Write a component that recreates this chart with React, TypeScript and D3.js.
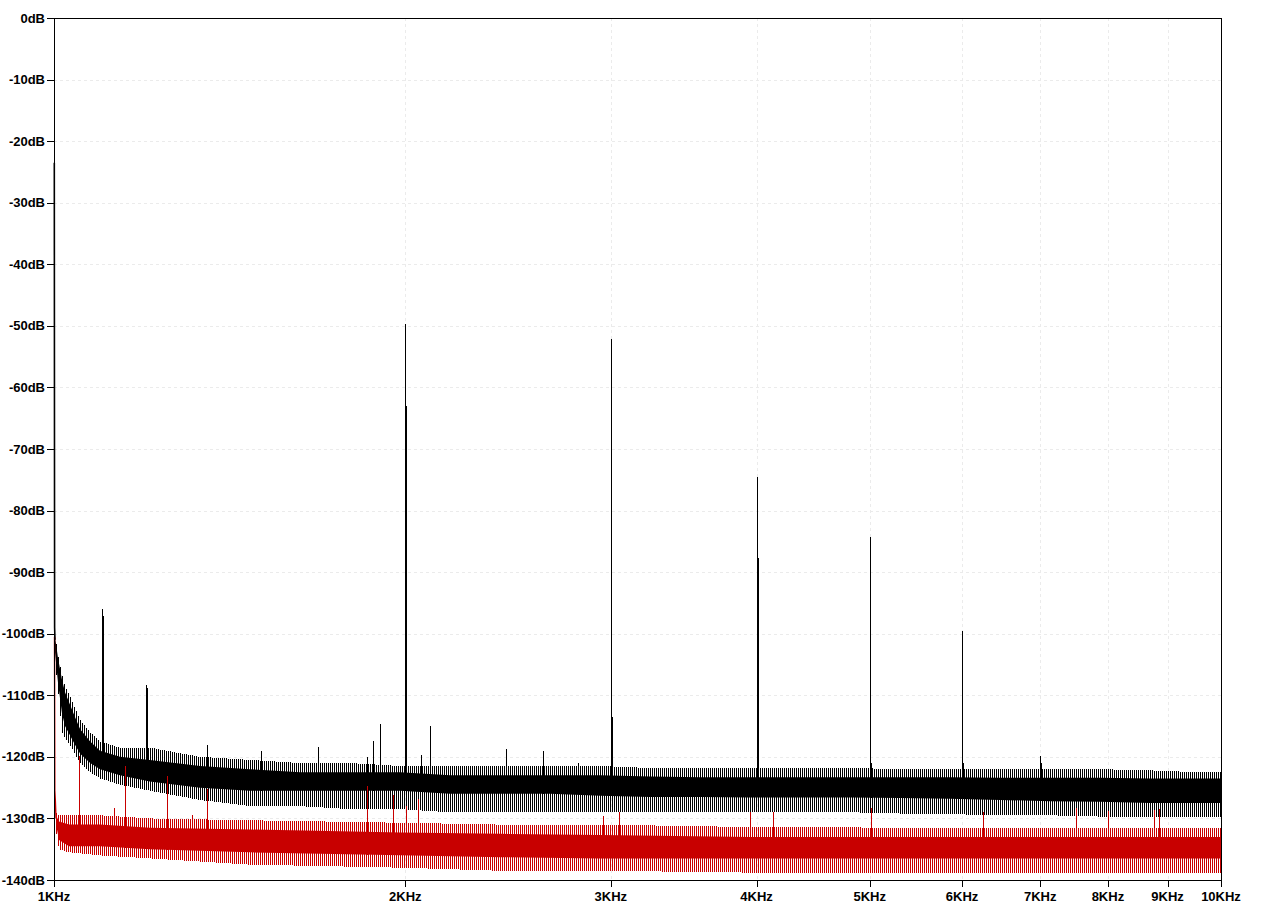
import React from 'react';
import * as d3 from 'd3';

const WIDTH = 1276;
const HEIGHT = 906;
const PLOT = { left: 54, top: 18, right: 1221, bottom: 880 };

// Axis ticks
const yTickValues = [0, -10, -20, -30, -40, -50, -60, -70, -80, -90, -100, -110, -120, -130, -140];
const yTickLabels = ['0dB', '-10dB', '-20dB', '-30dB', '-40dB', '-50dB', '-60dB', '-70dB', '-80dB', '-90dB', '-100dB', '-110dB', '-120dB', '-130dB', '-140dB'];
const xTickValues = [1000, 2000, 3000, 4000, 5000, 6000, 7000, 8000, 9000, 10000];
const xTickLabels = ['1KHz', '2KHz', '3KHz', '4KHz', '5KHz', '6KHz', '7KHz', '8KHz', '9KHz', '10KHz'];

// Black trace: lead-in at the 1 kHz edge
const blackLeadFreq = [1000.6, 1001.2, 1002];
const blackLeadDb = [-23.5, -99, -101];

// Black trace noise floor envelope (Hz, dB)
const blackBandFreq = [1002, 1008, 1016, 1022, 1032, 1042, 1053, 1074, 1095, 1139, 1208, 1334, 1472, 1625, 1794, 1980, 2185, 2412, 2662, 2938, 3242, 3578, 3949, 4359, 4811, 5310, 5861, 6469, 7140, 7881, 8699, 9601, 10000];
const blackCoreTop = [-100.5, -104, -107.5, -109.5, -111.5, -113.5, -115.5, -117.5, -119, -120, -120.5, -121.5, -122, -122.5, -122.5, -122.5, -123, -123, -123, -123, -123.2, -123.3, -123.3, -123.3, -123.3, -123.3, -123.3, -123.4, -123.4, -123.4, -123.5, -123.5, -123.5];
const blackCoreBottom = [-103, -108, -113, -115, -116.5, -118, -119.5, -121, -122, -123, -124, -125, -125.5, -125.5, -125.5, -125.5, -126, -126, -126, -126.3, -126.5, -126.5, -126.6, -126.6, -126.6, -126.7, -126.8, -127, -127.2, -127.3, -127.5, -127.5, -127.5];
const blackFringeTop = [-100, -103.5, -106.5, -108.5, -110, -112, -114, -116, -117.5, -118.5, -118.5, -120, -120.5, -121, -121, -121.5, -121.5, -121.5, -121.5, -121.5, -121.8, -121.8, -121.8, -121.8, -121.8, -122, -122, -122, -122, -122, -122.2, -122.5, -122.5];
const blackFringeBottom = [-104.5, -109, -116, -117, -118, -119.5, -121, -122.5, -123.5, -124.5, -125.5, -127, -128, -128, -128.5, -128.5, -129, -129, -129, -129, -129, -129, -129, -129, -129, -129.2, -129.3, -129.5, -129.5, -129.7, -129.8, -129.8, -129.8];

// Black harmonics (Hz, peak dB, adjacent-bin dB)
const harmonicFreq = [1100, 1200, 2000, 3000, 4000, 5000, 6000, 7000];
const harmonicPeak = [-96.0, -108.3, -49.7, -52.1, -74.5, -84.3, -99.6, -119.9];
const harmonicShoulder = [-97.2, -108.8, -63.0, -113.6, -87.7, -121, -121, -121];

// Small black spurs above the floor
const blackSpurFreq = [1352, 1504, 1684, 1853, 1875, 1901, 2063, 2100, 2438, 2623, 2812];
const blackSpurDb = [-118.0, -119.0, -118.4, -120.1, -117.5, -114.7, -119.7, -115.0, -118.7, -119.0, -121.0];

// Red trace: lead-in at 1 kHz edge
const redLeadFreq = [1001, 1001.6, 1002.6, 1004];
const redLeadDb = [-100.5, -125.5, -127, -130];

// Red noise floor envelope
const redBandFreq = [1004, 1010, 1030, 1095, 1208, 1472, 1980, 2412, 2938, 3949, 5310, 7140, 10000];
const redCoreTop = [-129.5, -130.5, -131, -131, -131.5, -131.8, -132.3, -132.5, -132.7, -133, -133, -133, -133];
const redCoreBottom = [-131, -133.5, -134.5, -134.5, -135, -135.5, -136, -136.3, -136.5, -136.5, -136.5, -136.5, -136.5];
const redFringeTop = [-129, -129.5, -129.5, -129.5, -130, -130.3, -130.7, -131, -131, -131.4, -131.5, -131.6, -131.6];
const redFringeBottom = [-132, -135, -135.5, -136, -136.5, -137.5, -138, -138.5, -138.5, -138.8, -138.9, -138.9, -138.9];

// Red spurs
const redSpurFreq = [1051, 1126, 1150, 1251, 1313, 1352, 1853, 1951, 2002, 2052, 2953, 3050, 3949, 4129, 5010, 6249, 7510, 8007, 8760, 8847];
const redSpurDb = [-119.9, -128.3, -121.5, -123.1, -129.5, -125.2, -124.8, -126.2, -128.0, -126.9, -129.6, -129.0, -128.9, -128.9, -128.3, -128.9, -128.3, -128.8, -128.6, -128.5];

const BLACK = '#000000';
const RED = '#c80000';
const FONT = '"Liberation Sans", Arial, sans-serif';

export default function App() {
  const x = d3.scaleLog().domain([1000, 10000]).range([PLOT.left, PLOT.right]);
  const y = d3.scaleLinear().domain([0, -140]).range([PLOT.top, PLOT.bottom]);

  const px = (f: number) => Math.round(x(f)) + 0.5;

  const band = (freq: number[], top: number[], bottom: number[]) => {
    const pts = freq.map((f, i) => ({ f, t: top[i], b: bottom[i] }));
    return d3.area<{ f: number; t: number; b: number }>()
      .x(d => x(d.f))
      .y0(d => y(d.b))
      .y1(d => y(d.t))(pts) || '';
  };

  const lead = (freq: number[], db: number[]) =>
    d3.line<number>().x((_, i) => x(freq[i])).y(d => y(d))(db) || '';

  const blackBase = d3.scaleLog().domain(blackBandFreq).range(blackCoreBottom);
  const redBase = d3.scaleLog().domain(redBandFreq).range(redCoreBottom);

  return (
    <svg width={WIDTH} height={HEIGHT} style={{ position: 'absolute', left: 0, top: 0, background: '#fff' }}>
      <defs>
        <pattern id="noiseBlack" patternUnits="userSpaceOnUse" width={2} height={4}>
          <rect x={0} y={0} width={1} height={4} fill={BLACK} />
        </pattern>
        <pattern id="noiseRed" patternUnits="userSpaceOnUse" width={2} height={4}>
          <rect x={0} y={0} width={1} height={4} fill={RED} />
        </pattern>
      </defs>
      <rect x={0} y={0} width={WIDTH} height={HEIGHT} fill="#fff" />
      {/* grid */}
      <g stroke="#ebebeb" strokeWidth={1} strokeDasharray="3,3" shapeRendering="crispEdges">
        {yTickValues.slice(1, -1).map(v => (
          <line key={'gy' + v} x1={PLOT.left} x2={PLOT.right} y1={Math.round(y(v)) + 0.5} y2={Math.round(y(v)) + 0.5} />
        ))}
        {xTickValues.slice(1, -1).map(v => (
          <line key={'gx' + v} x1={px(v)} x2={px(v)} y1={PLOT.top} y2={PLOT.bottom} />
        ))}
      </g>

      {/* black trace */}
      <g>
        <path d={band(blackBandFreq, blackFringeTop, blackFringeBottom)} fill="url(#noiseBlack)" shapeRendering="crispEdges" />
        <path d={band(blackBandFreq, blackCoreTop, blackCoreBottom)} fill={BLACK} />
        <path d={lead(blackLeadFreq, blackLeadDb)} fill="none" stroke={BLACK} strokeWidth={1.6} />
        <g stroke={BLACK} strokeWidth={1} shapeRendering="crispEdges">
          {harmonicFreq.map((f, i) => (
            <g key={'h' + f}>
              <line x1={px(f)} x2={px(f)} y1={y(harmonicPeak[i])} y2={y(blackBase(f))} />
              <line x1={px(f) + 1} x2={px(f) + 1} y1={y(harmonicShoulder[i])} y2={y(blackBase(f))} />
            </g>
          ))}
          {blackSpurFreq.map((f, i) => (
            <line key={'bs' + f} x1={px(f)} x2={px(f)} y1={y(blackSpurDb[i])} y2={y(blackBase(f))} />
          ))}
        </g>
      </g>

      {/* red trace */}
      <g>
        <path d={band(redBandFreq, redFringeTop, redFringeBottom)} fill="url(#noiseRed)" shapeRendering="crispEdges" />
        <path d={band(redBandFreq, redCoreTop, redCoreBottom)} fill={RED} />
        <path d={lead(redLeadFreq, redLeadDb)} fill="none" stroke={RED} strokeWidth={1.4} />
        <g stroke={RED} strokeWidth={1} shapeRendering="crispEdges">
          {redSpurFreq.map((f, i) => (
            <line key={'rs' + f} x1={px(f)} x2={px(f)} y1={y(redSpurDb[i])} y2={y(redBase(f))} />
          ))}
        </g>
      </g>

      {/* frame */}
      <rect x={PLOT.left + 0.5} y={PLOT.top + 0.5} width={PLOT.right - PLOT.left} height={PLOT.bottom - PLOT.top}
        fill="none" stroke="#000" strokeWidth={1} shapeRendering="crispEdges" />

      {/* y axis */}
      <g fontFamily={FONT} fontWeight="bold" fontSize={13} fill="#000">
        {yTickValues.map((v, i) => (
          <g key={'yt' + v}>
            <line x1={47} x2={PLOT.left} y1={Math.round(y(v)) + 0.5} y2={Math.round(y(v)) + 0.5} stroke="#000" shapeRendering="crispEdges" />
            <text x={45} y={y(v) + 4.5} textAnchor="end">{yTickLabels[i]}</text>
          </g>
        ))}
      </g>

      {/* x axis */}
      <g fontFamily={FONT} fontWeight="bold" fontSize={13} fill="#000">
        {xTickValues.map((v, i) => (
          <g key={'xt' + v}>
            <line x1={px(v)} x2={px(v)} y1={PLOT.bottom} y2={PLOT.bottom + 7} stroke="#000" shapeRendering="crispEdges" />
            <text x={x(v)} y={901} textAnchor="middle">{xTickLabels[i]}</text>
          </g>
        ))}
      </g>
    </svg>
  );
}
